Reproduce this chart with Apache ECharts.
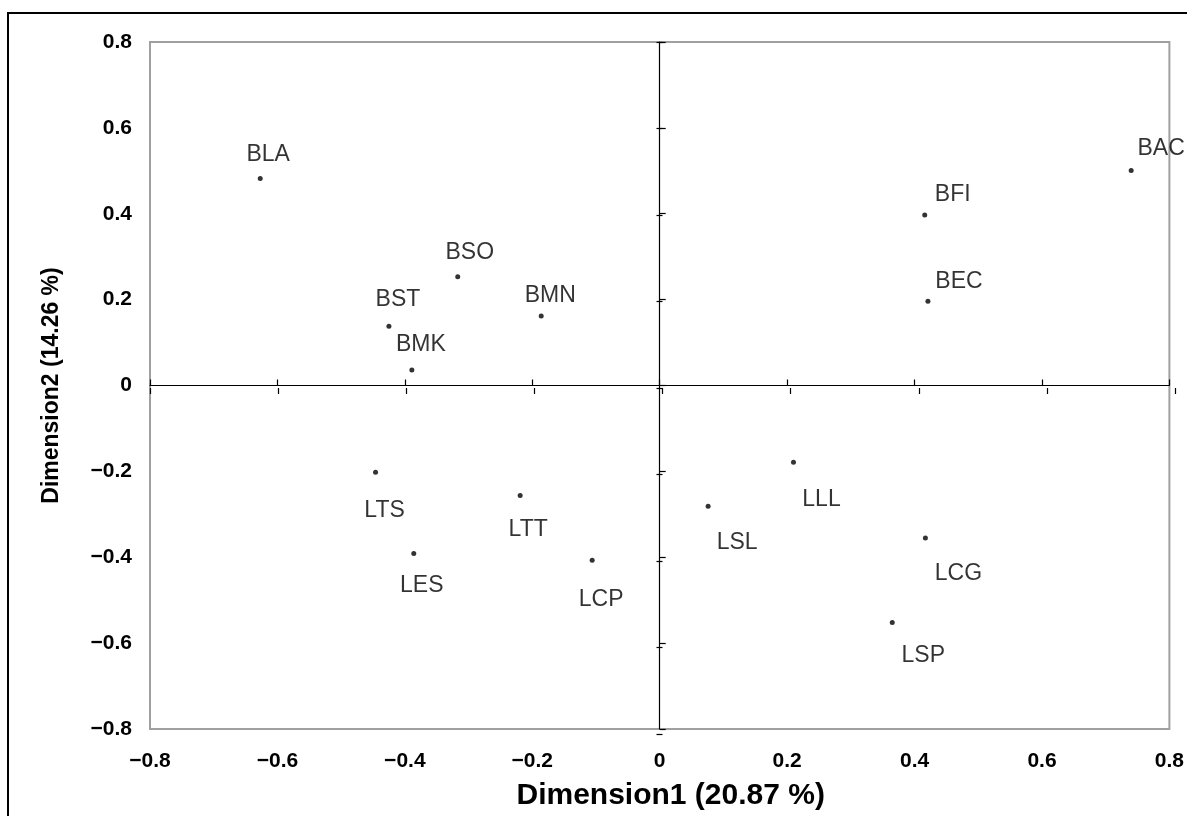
<!DOCTYPE html>
<html>
<head>
<meta charset="utf-8">
<script src="https://cdn.jsdelivr.net/npm/echarts@6/dist/echarts.min.js"></script>
<style>
  html, body { margin: 0; padding: 0; background: #fff; }
  #chart { width: 1187px; height: 816px; }
</style>
</head>
<body>
<div id="chart"></div>
<script>
// 点名称与坐标 (Dimension1, Dimension2)
const names = ['BLA', 'BAC', 'BFI', 'BEC', 'BSO', 'BST', 'BMK', 'BMN',
  'LTS', 'LTT', 'LES', 'LCP', 'LLL', 'LSL', 'LCG', 'LSP']
const dim1 = [-0.627, 0.740, 0.416, 0.421, -0.317, -0.425, -0.389, -0.186,
  -0.446, -0.219, -0.386, -0.106, 0.210, 0.076, 0.417, 0.365]
const dim2 = [0.482, 0.501, 0.397, 0.196, 0.253, 0.138, 0.036, 0.162,
  -0.202, -0.256, -0.391, -0.407, -0.179, -0.281, -0.355, -0.552]
const axisMin = -0.8
const axisMax = 0.8
const axisStep = 0.2
const xTitle = 'Dimension1 (20.87 %)'
const yTitle = 'Dimension2 (14.26 %)'

// 标签相对点的偏移 (样式)
const labelOffsets = [[8, -24], [30, -22], [28, -20], [31, -20], [12, -24], [9, -27], [9, -25], [9, -20],
  [9, 38], [8, 34], [8, 32], [9, 39], [28, 37], [29, 37], [33, 36], [31, 33]]

const font = "'Liberation Sans', Arial, sans-serif"

function tickFmt (v) {
  if (Math.abs(v) < 1e-9) return '0'
  return (v < 0 ? '\u2212' : '') + Math.abs(v).toFixed(1)
}

const points = names.map((n, i) => ({
  name: n,
  value: [dim1[i], dim2[i]],
  label: { offset: labelOffsets[i] }
}))

const gridBox = { left: 150, right: 12, top: 42, bottom: 82 }
const base = { type: 'value', min: axisMin, max: axisMax, interval: axisStep, splitLine: { show: false } }
const crossLine = { onZero: true, lineStyle: { color: '#000', width: 1.2 } }
const hiddenLine = { onZero: true, lineStyle: { color: '#000', width: 1.2, opacity: 0 } }
const crossTick = { show: true, length: 6, lineStyle: { color: '#000', width: 1.2 } }

const chart = echarts.init(document.getElementById('chart'))
chart.setOption({
  backgroundColor: '#fff',
  animation: false,
  graphic: [{
    type: 'rect',
    silent: true,
    z: -10,
    shape: { x: 8, y: 13, width: 1400, height: 1000 },
    style: { fill: 'none', stroke: '#000', lineWidth: 2 }
  }],
  grid: [
    Object.assign({ show: true, borderColor: '#a0a0a0', borderWidth: 2, backgroundColor: 'transparent' }, gridBox),
    Object.assign({ show: false }, gridBox)
  ],
  xAxis: [
    Object.assign({}, base, {
      gridIndex: 0,
      position: 'bottom',
      axisLine: { show: false, onZero: false },
      axisTick: { show: false },
      axisLabel: { formatter: tickFmt, fontSize: 21, fontWeight: 'bold', color: '#000', margin: 22, fontFamily: font },
      name: xTitle,
      nameLocation: 'middle',
      nameGap: 52,
      nameTextStyle: { fontSize: 30, fontWeight: 'bold', color: '#000', fontFamily: font, padding: [0, 0, 0, 22] }
    }),
    Object.assign({}, base, { gridIndex: 0, position: 'top', axisLine: crossLine, axisTick: crossTick, axisLabel: { show: false } }),
    Object.assign({}, base, { gridIndex: 1, position: 'bottom', axisLine: hiddenLine, axisTick: crossTick, axisLabel: { show: false } })
  ],
  yAxis: [
    Object.assign({}, base, {
      gridIndex: 0,
      position: 'left',
      axisLine: { show: false, onZero: false },
      axisTick: { show: false },
      axisLabel: { formatter: tickFmt, fontSize: 21, fontWeight: 'bold', color: '#000', margin: 18, fontFamily: font },
      name: yTitle,
      nameLocation: 'middle',
      nameGap: 87,
      nameTextStyle: { fontSize: 23, fontWeight: 'bold', color: '#000', fontFamily: font }
    }),
    Object.assign({}, base, { gridIndex: 0, position: 'right', axisLine: crossLine, axisTick: crossTick, axisLabel: { show: false } }),
    Object.assign({}, base, { gridIndex: 1, position: 'left', axisLine: hiddenLine, axisTick: crossTick, axisLabel: { show: false } })
  ],
  series: [{
    type: 'scatter',
    xAxisIndex: 0,
    yAxisIndex: 0,
    symbol: 'circle',
    symbolSize: 5,
    itemStyle: { color: '#000' },
    label: {
      show: true,
      position: 'inside',
      formatter: '{b}',
      color: '#000',
      fontSize: 23,
      fontFamily: font
    },
    emphasis: { disabled: true },
    data: points
  }]
})
</script>
</body>
</html>
